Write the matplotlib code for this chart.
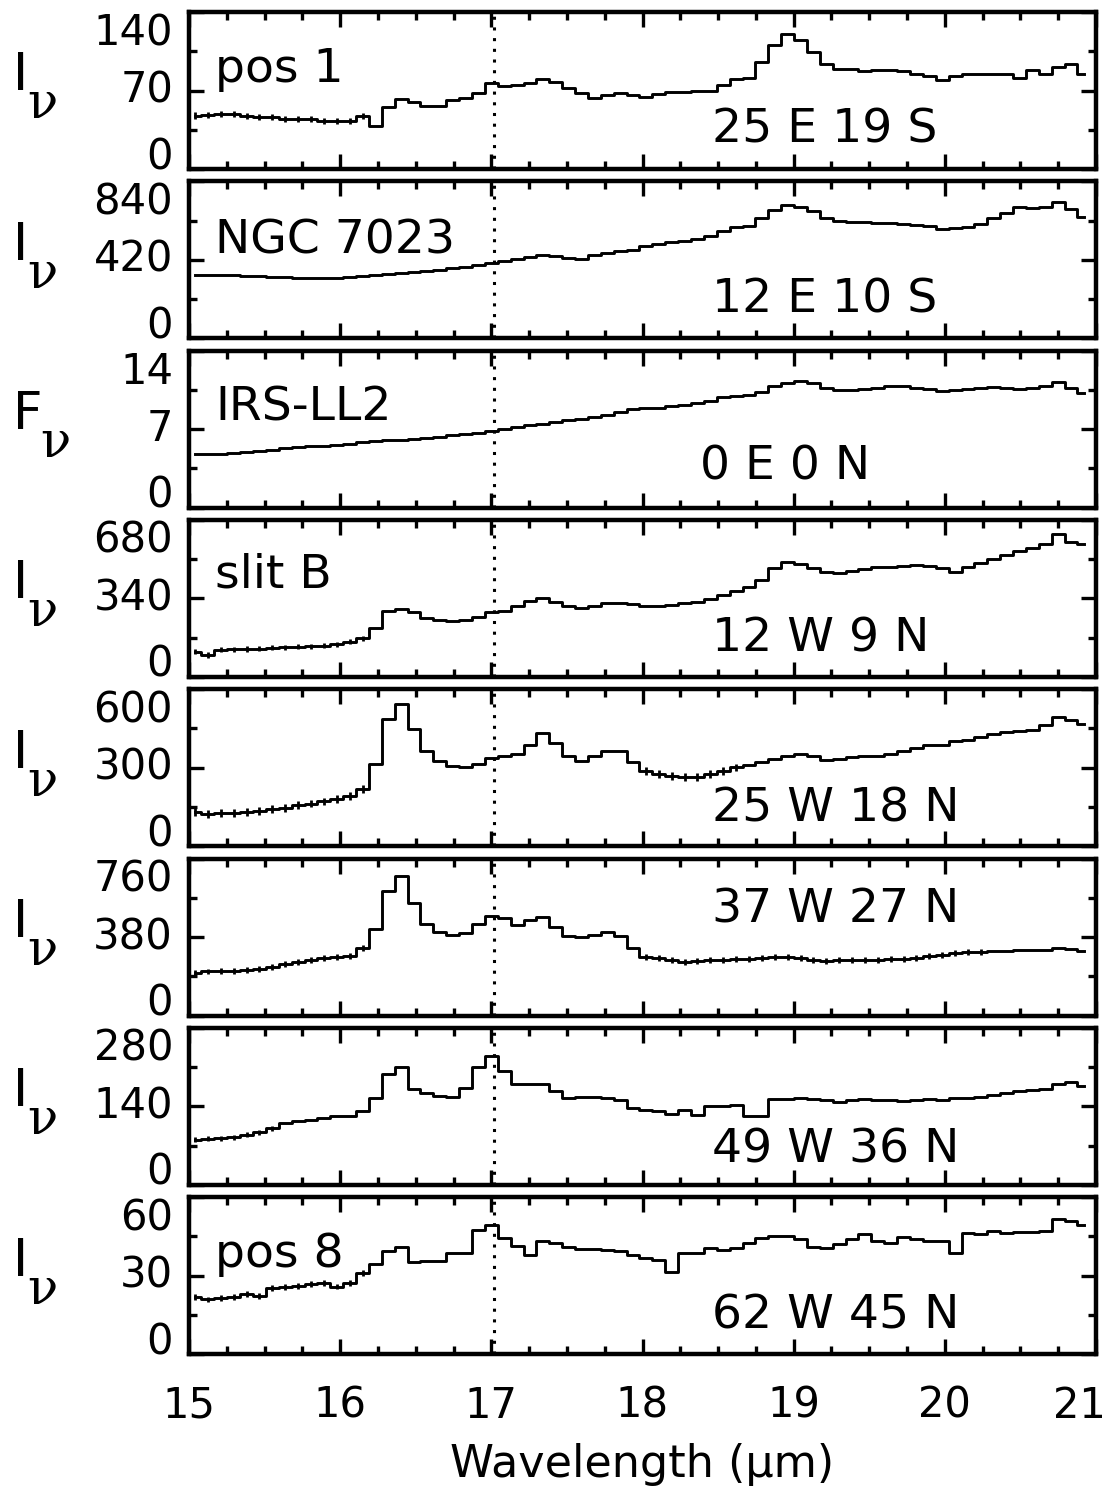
import numpy as np
import matplotlib
matplotlib.use('Agg')
import matplotlib.pyplot as plt
from matplotlib.ticker import FixedLocator, MultipleLocator
from matplotlib.transforms import blended_transform_factory, ScaledTranslation

# ---------------- data ----------------
wave_start, wave_stop, n_bins = 15.04, 20.92, 70
wavelength = np.linspace(wave_start, wave_stop, n_bins)

pos1 = [47.7, 48.5, 49, 49, 47, 46.5, 46, 45, 45, 44.5, 43, 43, 42.5, 47.5, 38.5,
        55.4, 62, 60, 56, 56, 61.5, 63.7, 67.7, 76.3, 74, 74.5, 77, 80.6, 77.5, 72.3,
        67.7, 63.7, 66, 68, 66, 64, 67, 69, 69, 69.5, 70, 75, 80.6, 81, 95,
        110.8, 120, 115.4, 104, 93.8, 89, 89, 87.7, 88, 88.5, 87, 85, 82.5, 79.4, 83,
        84.6, 84.6, 84.6, 84.6, 81.5, 88, 85, 90.8, 93.8, 84.6]
ngc7023 = [337, 338, 339, 338, 336, 333, 330, 327, 324, 323, 323, 325, 328, 334, 340,
           346, 352, 357, 362, 367, 374, 381, 390, 405, 415, 425, 437, 444, 439, 430,
           426, 444, 458, 468, 474, 494, 507, 514, 522, 532, 550, 572, 595, 600, 643,
           684, 711, 702, 679, 644, 628, 622, 621, 619, 617, 613, 608, 601, 583, 590,
           596, 613, 644, 672, 702, 699, 700, 729, 694, 649]
irs_ll2 = [4.78, 4.75, 4.8, 4.88, 4.98, 5.08, 5.18, 5.28, 5.38, 5.45, 5.53, 5.6, 5.68, 5.83, 5.98,
           6.02, 6.07, 6.13, 6.19, 6.3, 6.43, 6.53, 6.64, 6.79, 7.03, 7.18, 7.33, 7.48, 7.63, 7.78,
           7.93, 8.1, 8.29, 8.5, 8.77, 8.85, 8.92, 9.02, 9.13, 9.3, 9.49, 9.88, 9.97, 10.0, 10.3,
           10.8, 11.1, 11.3, 11.1, 10.7, 10.5, 10.45, 10.6, 10.7, 10.8, 10.8, 10.7, 10.6, 10.4, 10.5,
           10.6, 10.7, 10.75, 10.7, 10.6, 10.7, 10.8, 11.2, 10.7, 10.2]
slit_b = [110, 95, 117, 120, 121, 123, 126, 128, 130, 133, 136, 141, 153, 167, 211,
          286, 295, 280, 257, 247, 243, 247, 261, 280, 286, 305, 329, 341, 323, 305,
          297, 309, 319, 322, 315, 309, 308, 312, 319, 326, 338, 355, 372, 391, 420,
          471, 497, 489, 471, 456, 452, 459, 468, 474, 478, 481, 485, 482, 471, 456,
          474, 492, 511, 528, 546, 560, 575, 618, 586, 575]
w25_n18 = [132, 124, 127, 128, 131, 135, 141, 147, 156, 163, 171, 179, 192, 218, 314,
           487, 545, 449, 365, 327, 308, 301, 314, 337, 343, 353, 385, 432, 394, 343,
           327, 343, 363, 363, 321, 288, 276, 269, 263, 265, 276, 288, 301, 311, 321,
           333, 346, 353, 343, 330, 333, 340, 343, 346, 353, 365, 376, 385, 388, 401,
           406, 417, 427, 436, 442, 445, 462, 494, 481, 468]
w37_n27 = [207, 213, 215, 216, 219, 226, 236, 247, 258, 271, 279, 284, 287, 328, 420,
           602, 674, 545, 441, 403, 392, 400, 445, 481, 473, 436, 461, 478, 429, 387,
           381, 392, 403, 387, 328, 284, 279, 271, 258, 263, 268, 268, 274, 274, 278,
           284, 284, 279, 271, 263, 268, 268, 271, 271, 274, 274, 279, 290, 295, 303,
           307, 308, 311, 313, 316, 316, 319, 328, 323, 311]
w49_n36 = [80, 82, 83, 85, 89, 94, 101, 110, 113, 116, 119, 122, 123, 131, 155,
           197, 210, 170, 164, 159, 157, 173, 210, 229, 203, 179, 179, 179, 167, 155,
           157, 157, 155, 151, 137, 133, 131, 127, 134, 125, 140, 141, 143, 123, 122,
           153, 153, 155, 153, 152, 147, 152, 153, 152, 151, 149, 151, 153, 151, 155,
           154, 157, 161, 164, 167, 169, 170, 180, 183, 177]
pos8 = [21.7, 20.9, 21.3, 21.7, 23, 22.2, 25.2, 25.5, 26, 26.8, 27.1, 25.8, 27.1, 31, 34.6,
        39.3, 41, 35.1, 35.5, 35.5, 38.7, 38.7, 47.5, 49.3, 44.5, 41.3, 38, 43.2, 42.6, 41,
        40.2, 40, 39.7, 39.3, 37.7, 36.8, 36.1, 31.2, 38.7, 38.7, 40.6, 39.7, 40.6, 42.6, 44.5,
        45.1, 45.1, 44.1, 41, 40.6, 41.9, 43.9, 45.8, 43.2, 42.6, 44.9, 43.9, 43.2, 43.2, 38.7,
        46.2, 45.8, 47.1, 46.4, 46.7, 46.7, 47.1, 51.6, 51, 49.3]

spectra = [pos1, ngc7023, irs_ll2, slit_b, w25_n18, w37_n27, w49_n36, pos8]
# size of the (small) error bars and the wavelength ranges where they are visible
err_size = [2.7, 0, 0, 11, 15, 14.5, 4.5, 1.1]
err_ranges = [[(15.0, 16.2)], [], [], [(15.0, 16.2)],
              [(15.0, 16.2), (18.0, 18.65)], [(15.0, 16.2), (18.0, 20.3)],
              [(15.0, 15.6)], [(15.0, 16.2)]]

y_max = [140, 840, 14, 680, 600, 760, 280, 60]
quantity = ['I', 'I', 'F', 'I', 'I', 'I', 'I', 'I']
left_labels = ['pos 1', 'NGC 7023', 'IRS-LL2', 'slit B', '', '', '', 'pos 8']
offset_labels = ['25 E 19 S', '12 E 10 S', '0 E 0 N', '12 W 9 N',
                 '25 W 18 N', '37 W 27 N', '49 W 36 N', '62 W 45 N']
marker_wave = 17.02
x_ticks = [15, 16, 17, 18, 19, 20, 21]
x_label = 'Wavelength (μm)'

# ---------------- layout / style ----------------
W, H = 1109, 1489
fig = plt.figure(figsize=(W / 100, H / 100), dpi=100)
plt.rcParams['font.family'] = ['DejaVu Sans']

ax_left, ax_width = 189, 907
top0, pitch, ax_h = 12, 169.3, 157

left_lab_y = [0.554, 0.54, 0.555, 0.567, 0, 0, 0, 0.554]
off_lab_x = [0.577, 0.577, 0.563, 0.577, 0.577, 0.577, 0.577, 0.577]
off_lab_y = [0.17, 0.166, 0.18, 0.16, 0.16, 0.59, 0.14, 0.16]

for i, vals in enumerate(spectra):
    vals = np.asarray(vals, dtype=float)
    top = top0 + i * pitch
    ax = fig.add_axes([ax_left / W, 1 - (top + ax_h) / H, ax_width / W, ax_h / H])
    ax.step(wavelength, vals, where='mid', color='k', lw=2.1)
    for lo, hi in err_ranges[i]:
        m = (wavelength >= lo) & (wavelength <= hi)
        ax.errorbar(wavelength[m], vals[m], yerr=err_size[i], fmt='none',
                    ecolor='k', elinewidth=2.0, capsize=0)
    ax.axvline(marker_wave, color='k', lw=2.2, ls=(0, (1, 2.5)))
    ax.set_xlim(x_ticks[0], x_ticks[-1])
    ym = y_max[i]
    ax.set_ylim(0, ym)
    ax.xaxis.set_major_locator(FixedLocator(x_ticks))
    ax.xaxis.set_minor_locator(MultipleLocator(0.25))
    ax.yaxis.set_major_locator(FixedLocator([0, ym / 2, ym]))
    ax.yaxis.set_minor_locator(FixedLocator([ym / 4, 3 * ym / 4]))
    ax.set_yticklabels([str(int(round(v))) for v in [0, ym / 2, ym]])
    for sp in ax.spines.values():
        sp.set_linewidth(3.2)
    ax.tick_params(which='major', direction='in', length=11, width=2.4,
                   top=True, right=True, labelsize=30, pad=11.5)
    ax.tick_params(which='minor', direction='in', length=5.5, width=2.4,
                   top=True, right=True)
    if i < len(spectra) - 1:
        ax.tick_params(labelbottom=False)
    else:
        ax.tick_params(axis='x', which='major', pad=22)
        last = ax.xaxis.get_major_ticks()[-1].label1
        last.set_transform(last.get_transform() +
                           ScaledTranslation(-0.17, 0, fig.dpi_scale_trans))
    vas = ['baseline', 'center', 'top']
    for t, va in zip(ax.yaxis.get_major_ticks(), vas):
        t.label1.set_va(va)

    if left_labels[i]:
        ax.text(0.029, left_lab_y[i], left_labels[i], transform=ax.transAxes,
                fontsize=34, ha='left', va='baseline')
    ax.text(off_lab_x[i], off_lab_y[i], offset_labels[i], transform=ax.transAxes,
            fontsize=34, ha='left', va='baseline')

    tr = blended_transform_factory(fig.transFigure, ax.transAxes)
    q = quantity[i]
    fig.text(13 / W, 0.5, q, transform=tr, fontsize=37, ha='left', va='baseline')
    nu_x = 27 if q == 'I' else 40
    fig.text(nu_x / W, 0.5 - 28 / ax_h, 'ν', transform=tr, fontsize=36,
             family=['DejaVu Serif'], ha='left', va='baseline')

fig.text((ax_left + ax_width / 2) / W, 1 - 1477 / H, x_label,
         fontsize=32, ha='center', va='baseline')

fig.savefig('out.png', dpi=100)
